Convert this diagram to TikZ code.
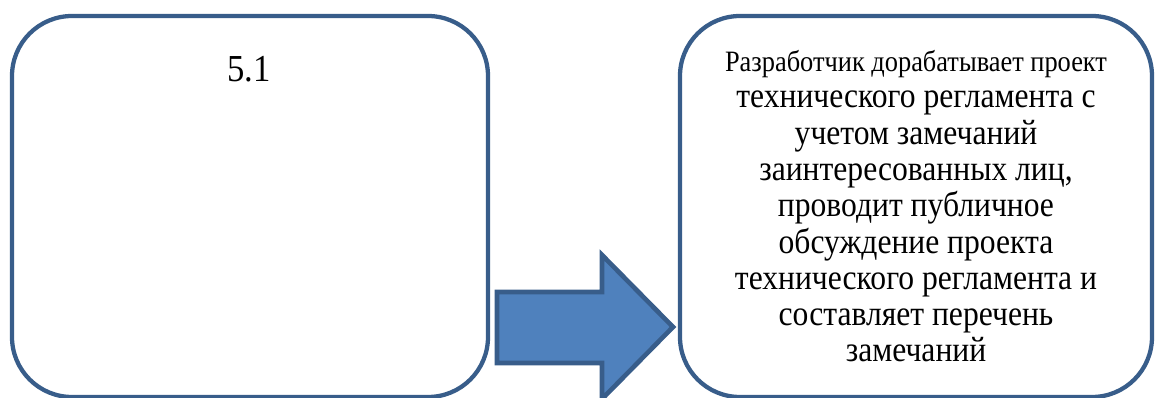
\documentclass[tikz,border=0pt]{standalone}
\usepackage{fontspec}
\setmainfont{Liberation Serif}
\definecolor{edge}{HTML}{385D8A}
\definecolor{fillb}{HTML}{4F81BD}
\begin{document}
\begin{tikzpicture}[x=0.75pt,y=-0.75pt,
  box/.style={draw=edge,line width=3.2pt,rounded corners=45pt,fill=white,inner sep=0pt},
  body/.style={font=\fontsize{23.7}{24.3}\selectfont,inner sep=0pt}]
\useasboundingbox (0,0) rectangle (1157,398);
\node[box,minimum width=476*0.75pt,minimum height=381*0.75pt] (b1) at (250,206.5) {};
\node[box,minimum width=472*0.75pt,minimum height=381*0.75pt] (b2) at (916,206.5) {};
\node[font=\fontsize{26}{30}\selectfont,anchor=base,inner sep=0pt] (t1) at (249,82) {\scalebox{1}[1.1]{5.1}};
\node[body,anchor=base] (t2) at (916,362) {\scalebox{1}[1.12]{\renewcommand\arraystretch{1}%
\begin{tabular}[b]{@{}c@{}}{\fontsize{19.8}{24.3}\selectfont Разработчик дорабатывает проект}\\
технического регламента с\\
учетом замечаний\\
заинтересованных лиц,\\
проводит публичное\\
обсуждение проекта\\
технического регламента и\\
составляет перечень\\
замечаний\end{tabular}}};
\coordinate (a1) at (497,292);
\coordinate (a2) at (602,292);
\coordinate (a3) at (602,255);
\coordinate (a4) at (673,327);
\coordinate (a5) at (602,399);
\coordinate (a6) at (602,363);
\coordinate (a7) at (497,363);
\draw[draw=edge,fill=fillb,line width=3.5pt,line join=miter] (a1) -- (a2) -- (a3) -- (a4) -- (a5) -- (a6) -- (a7) -- cycle;
\end{tikzpicture}
\end{document}
